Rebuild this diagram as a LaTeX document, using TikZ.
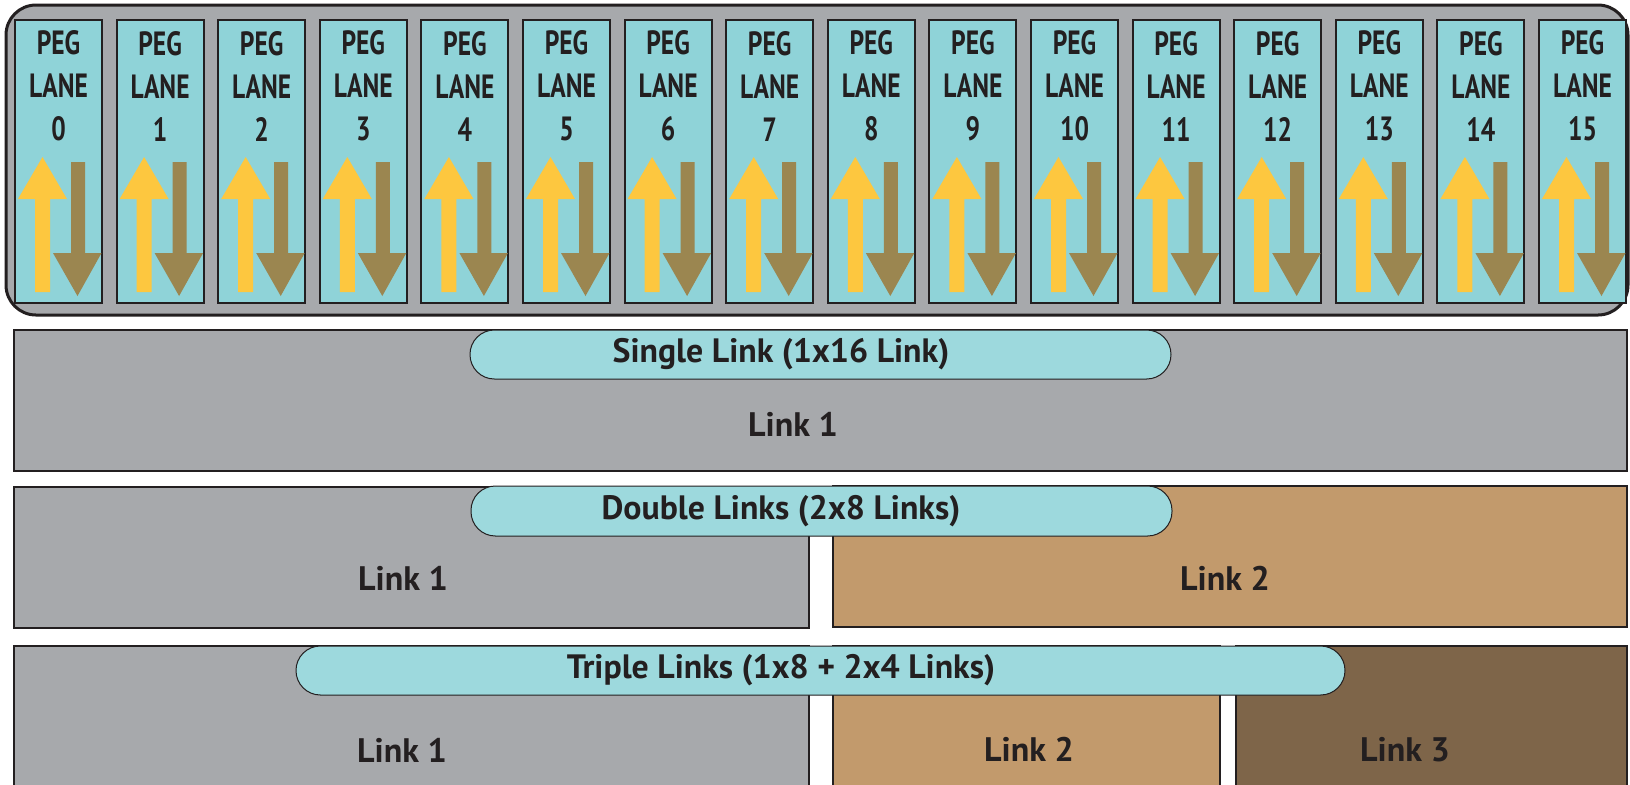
\documentclass[tikz,border=0pt]{standalone}
\usepackage{fontspec}
\setmainfont{PT Sans}
\newfontfamily\lanefont[FakeStretch=0.76]{PT Sans}
\usetikzlibrary{fit}
\definecolor{gfill}{HTML}{A7A9AC}
\definecolor{lanecyan}{HTML}{8FD3D8}
\definecolor{pillcyan}{HTML}{9DD9DD}
\definecolor{yel}{HTML}{FDC73F}
\definecolor{brn}{HTML}{9B8650}
\definecolor{tan}{HTML}{C29A6C}
\definecolor{dkbrn}{HTML}{7E6549}
\definecolor{ink}{HTML}{231F20}
\begin{document}
\begin{tikzpicture}[x=0.5pt,y=-0.5pt,
  outerbox/.style={draw=ink,fill=gfill,line width=1.5pt,rounded corners=15pt},
  lanebox/.style={draw=ink,fill=lanecyan,line width=1pt,minimum width=43.5pt,minimum height=141.5pt,inner sep=0pt},
  lanetext/.style={text=ink,align=center,font=\lanefont\bfseries\fontsize{16.8}{21.5}\selectfont},
  rowbox/.style={draw=ink,line width=1pt,inner sep=0pt},
  pillbox/.style={draw=ink,fill=pillcyan,line width=0.5pt,inner sep=0pt,rounded corners=12.2pt},
  pilltext/.style={text=ink,font=\bfseries\fontsize{16.9}{19}\selectfont},
  linktext/.style={text=ink,font=\bfseries\fontsize{17}{20}\selectfont}]
\clip (0,0) rectangle (1630,784);
\fill[white] (0,0) rectangle (1630,784);
% lanes container
\draw[outerbox] (6,5) rectangle (1628,315);
\foreach \i in {0,...,15}{
  \pgfmathsetmacro\L{15+101.6*\i}
  \node[lanebox] (lane\i) at (\L+43.5,161.5) {};
  \node[lanetext] (lbl\i) at (\L+43.5,86) {PEG\\LANE\\\i};
  \fill[yel] (\L+20,292) -- (\L+20,199) -- (\L+3,199) -- (\L+27.5,157) -- (\L+52,199) -- (\L+35,199) -- (\L+35,292) -- cycle;
  \fill[brn] (\L+56,162) -- (\L+56,253) -- (\L+38,253) -- (\L+62.5,296) -- (\L+86.5,253) -- (\L+70,253) -- (\L+70,162) -- cycle;
}
% row 1
\node[rowbox,fill=gfill,fit={(14,330) (1627,471)}] (r1a) {};
\node[pillbox,fit={(470,330) (1171,379)}] (p1) {};
\node[pilltext] (pt1) at (781,354) {Single Link (1x16 Link)};
\node[linktext] (t1a) at (793,424) {Link 1};
% row 2
\node[rowbox,fill=gfill,fit={(14,487) (809,628)}] (r2a) {};
\node[rowbox,fill=tan,fit={(833,486) (1627,627)}] (r2b) {};
\node[pillbox,fit={(471,486) (1172,536)}] (p2) {};
\node[pilltext] (pt2) at (781,511) {Double Links (2x8 Links)};
\node[linktext] (t2a) at (403,578) {Link 1};
\node[linktext] (t2b) at (1225,578) {Link 2};
% row 3
\node[rowbox,fill=gfill,fit={(14,646) (809,820)}] (r3a) {};
\node[rowbox,fill=tan,fit={(833,646) (1220,820)}] (r3b) {};
\node[rowbox,fill=dkbrn,fit={(1236,646) (1627,820)}] (r3c) {};
\node[pillbox,fit={(296,646) (1345,695)}] (p3) {};
\node[pilltext] (pt3) at (781,670) {Triple Links (1x8 + 2x4 Links)};
\node[linktext] (t3a) at (402,750) {Link 1};
\node[linktext] (t3b) at (1029,749) {Link 2};
\node[linktext] (t3c) at (1405,750) {Link 3};
\end{tikzpicture}
\end{document}
